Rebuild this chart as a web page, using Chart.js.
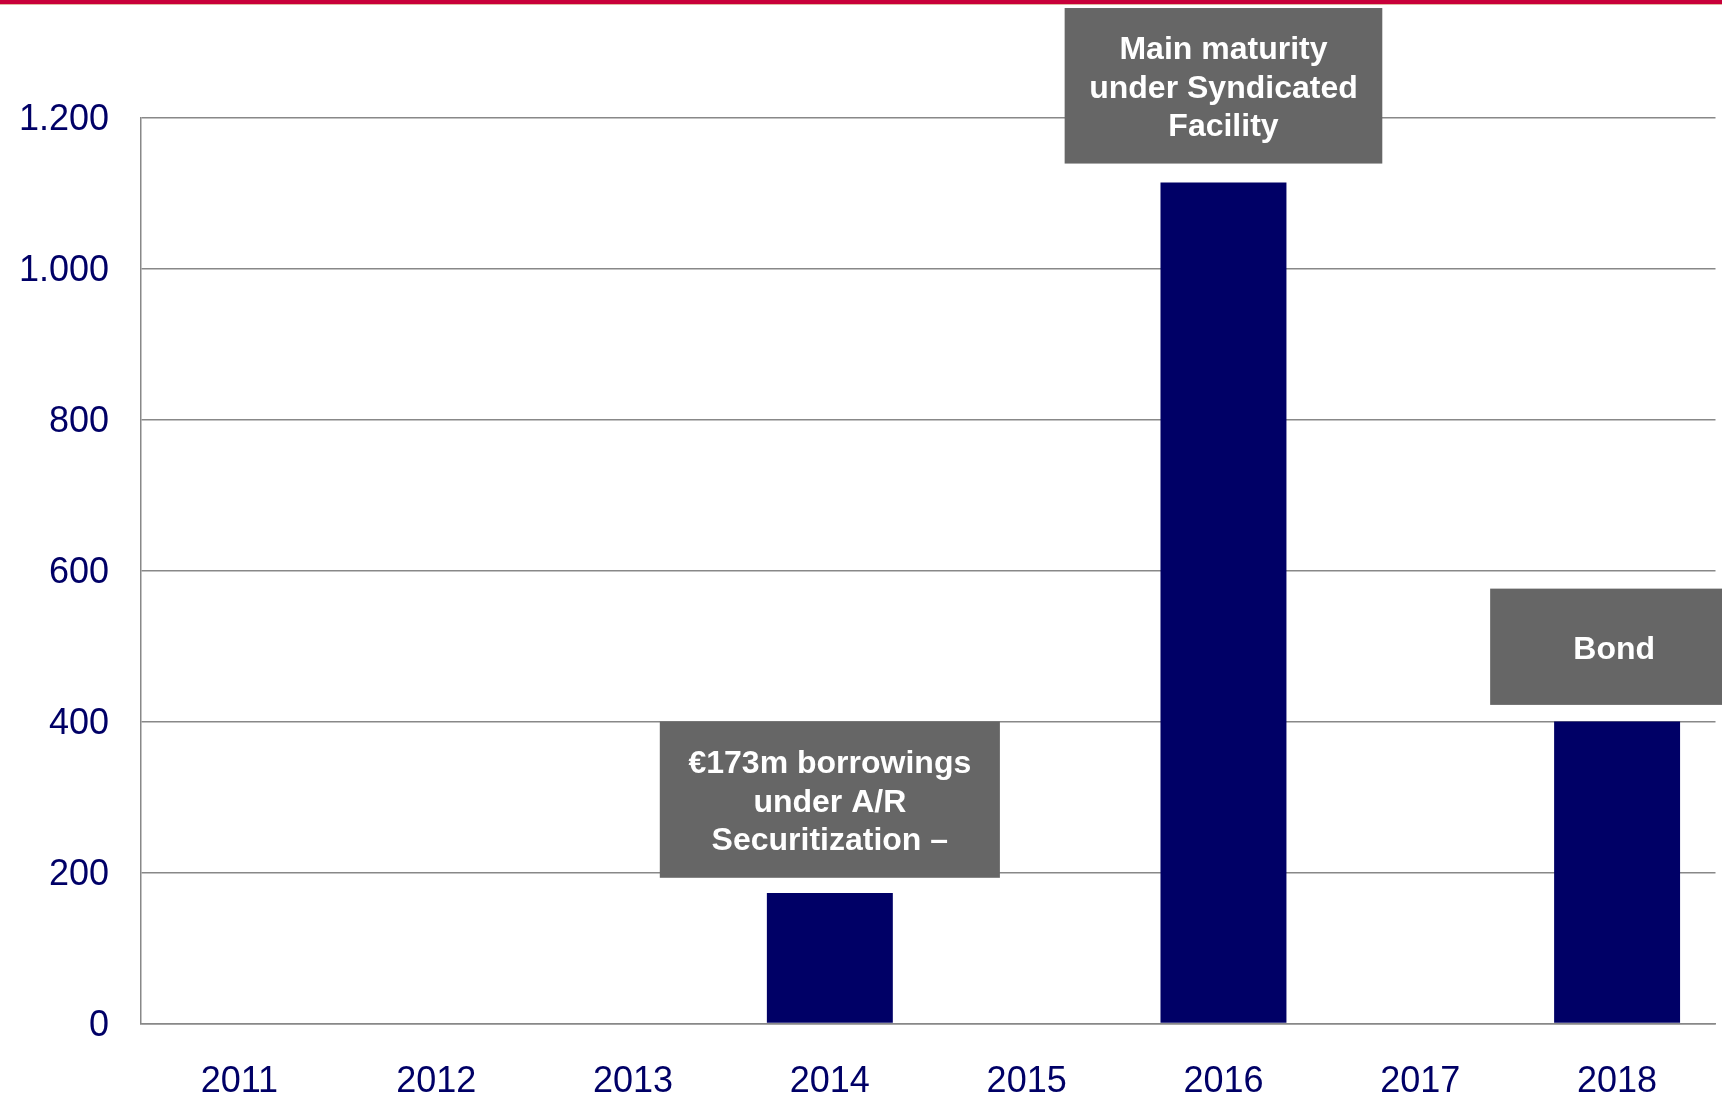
<!DOCTYPE html>
<html><head><meta charset="utf-8">
<script src="https://cdn.jsdelivr.net/npm/chart.js@4"></script>
<style>html,body{margin:0;padding:0;background:#fff;overflow:hidden}</style>
</head><body>
<canvas id="c" width="1722" height="1096"></canvas>
<script>
// ---- data ----
const categories = ['2011','2012','2013','2014','2015','2016','2017','2018'];
const maturities = [0, 0, 0, 173, 0, 1114, 0, 400];
const yTickValues = [0, 200, 400, 600, 800, 1000, 1200];
const yTickLabels = ['0', '200', '400', '600', '800', '1.000', '1.200'];
const noteTexts = [
  ['€173m borrowings', 'under A/R', 'Securitization –'],
  ['Main maturity', 'under Syndicated', 'Facility'],
  ['Bond']
];
const noteCategories = ['2014', '2016', '2018'];
const noteLow = [193, 1139, 422];
const noteHigh = [400, 1345, 576];

// ---- styling ----
const FONT = '"Liberation Sans", Arial, Helvetica, sans-serif';
const NAVY = '#000066';
const GRID = '#888888';
const noteHalfWidth = [0.864, 0.807, 0.645]; // in category widths
const noteTextShift = [0, 0, -0.015];

const notesPlugin = {
  id: 'notes',
  afterDatasetsDraw(chart) {
    const {ctx, scales: {x, y}} = chart;
    const catW = x.getPixelForValue(1) - x.getPixelForValue(0);
    ctx.save();
    noteTexts.forEach((lines, i) => {
      const cx = x.getPixelForValue(categories.indexOf(noteCategories[i]));
      const top = y.getPixelForValue(noteHigh[i]);
      const bot = y.getPixelForValue(noteLow[i]);
      const hw = noteHalfWidth[i] * catW;
      ctx.fillStyle = '#666666';
      ctx.fillRect(cx - hw, top, hw * 2, bot - top);
      ctx.fillStyle = '#ffffff';
      ctx.font = 'bold 32px ' + FONT;
      ctx.textAlign = 'center';
      ctx.textBaseline = 'middle';
      const lh = 38.5;
      const mid = (top + bot) / 2 + 3.3;
      const tx = cx + noteTextShift[i] * catW;
      lines.forEach((t, k) => {
        ctx.fillText(t, tx, mid + (k - (lines.length - 1) / 2) * lh);
      });
    });
    ctx.restore();
  },
  afterDraw(chart) {
    const ctx = chart.ctx;
    ctx.save();
    ctx.fillStyle = '#c8003a';
    ctx.fillRect(0, 0, chart.width, 4);
    ctx.fillStyle = '#e0b8a0';
    ctx.fillRect(0, 4, chart.width, 1);
    ctx.restore();
  }
};

new Chart(document.getElementById('c'), {
  type: 'bar',
  data: {
    labels: categories,
    datasets: [{
      data: maturities,
      backgroundColor: NAVY,
      borderWidth: 0,
      barPercentage: 0.64,
      categoryPercentage: 1.0
    }]
  },
  options: {
    responsive: false,
    animation: false,
    devicePixelRatio: 1,
    layout: { padding: { left: 0, right: 6.5, top: 117.5, bottom: 0 } },
    plugins: { legend: { display: false }, tooltip: { enabled: false } },
    scales: {
      x: {
        grid: { display: false, drawTicks: false },
        border: { display: true, color: GRID, width: 1.5 },
        ticks: { color: NAVY, font: { family: FONT, size: 36 }, padding: 37, maxRotation: 0, autoSkip: false },
        afterFit(s) { s.height = 72.5; }
      },
      y: {
        min: 0, max: 1200,
        afterBuildTicks(s) { s.ticks = yTickValues.map(v => ({ value: v })); },
        grid: { color: GRID, lineWidth: 1.5, drawTicks: false },
        border: { display: true, color: GRID, width: 1.5 },
        ticks: {
          color: NAVY, font: { family: FONT, size: 36 }, padding: 32, labelOffset: 3,
          callback: (v) => yTickLabels[yTickValues.indexOf(v)]
        },
        afterFit(s) { s.width = 141; }
      }
    }
  },
  plugins: [notesPlugin]
});
</script>
</body></html>
